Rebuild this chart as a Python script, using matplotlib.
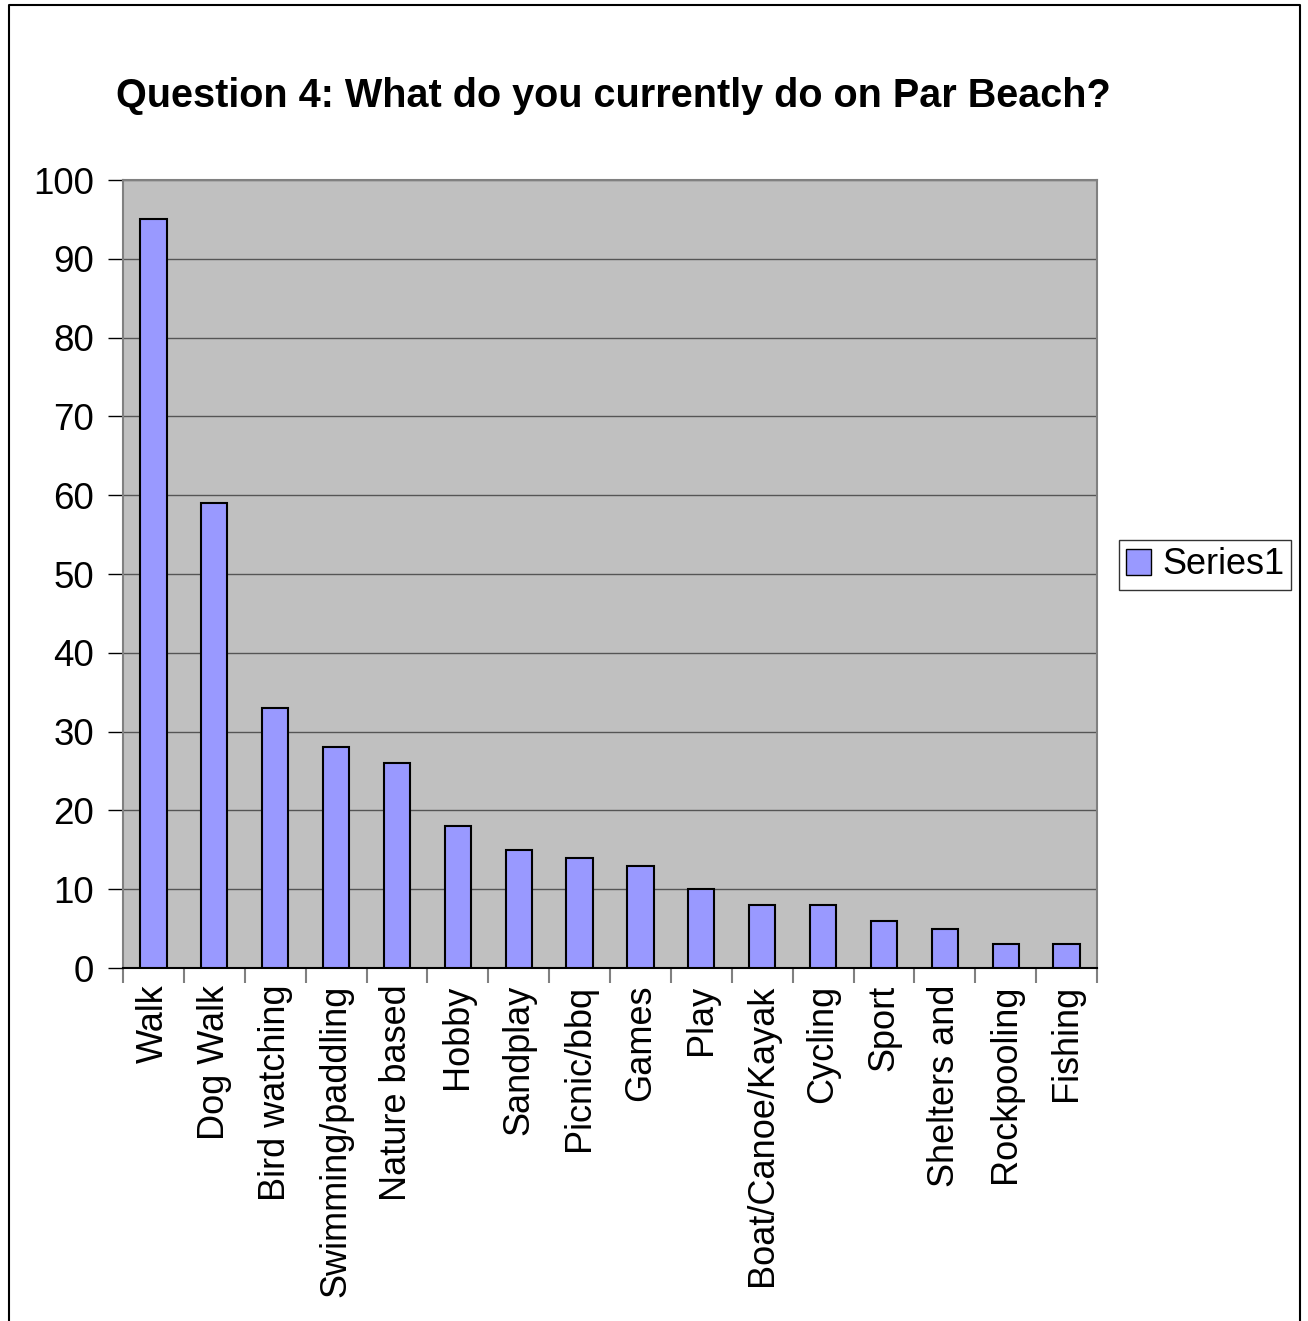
import matplotlib
matplotlib.use("Agg")
import matplotlib.pyplot as plt
from matplotlib.lines import Line2D
from matplotlib.patches import Patch

categories = ["Walk", "Dog Walk", "Bird watching", "Swimming/paddling", "Nature based",
              "Hobby", "Sandplay", "Picnic/bbq", "Games", "Play", "Boat/Canoe/Kayak",
              "Cycling", "Sport", "Shelters and", "Rockpooling", "Fishing"]
values = [95, 59, 33, 28, 26, 18, 15, 14, 13, 10, 8, 8, 6, 5, 3, 3]
yticks = [0, 10, 20, 30, 40, 50, 60, 70, 80, 90, 100]
title = "Question 4: What do you currently do on Par Beach?"
series_name = "Series1"

plt.rcParams['font.family'] = ['Liberation Sans', 'DejaVu Sans']

W, H = 1308, 1321
fig = plt.figure(figsize=(W / 100, H / 100), dpi=100)

# outer chart border (left, top, right)
fig.add_artist(Line2D([9 / W, 9 / W, 1300 / W, 1300 / W], [0, 1 - 5 / H, 1 - 5 / H, 0],
                      transform=fig.transFigure, color='black', lw=1.5))

ax = fig.add_axes([123 / W, 1 - 968 / H, (1097 - 123) / W, (968 - 180) / H])
ax.set_facecolor('#C0C0C0')
x = list(range(len(categories)))
bars = ax.bar(x, values, width=0.43, color='#9999FF', edgecolor='black', linewidth=1.5,
              zorder=3, label=series_name)
ax.set_xlim(-0.5, len(categories) - 0.5)
ax.set_ylim(0, 100)
ax.set_yticks(yticks)
ax.set_yticklabels([str(v) for v in yticks], fontsize=26.5)
ax.yaxis.grid(True, color='#555555', lw=1, zorder=1)
ax.set_axisbelow(True)

# category ticks at boundaries
ax.set_xticks([i - 0.5 for i in range(len(categories) + 1)])
ax.set_xticklabels([])
ax.set_xticks(x, minor=True)
ax.set_xticklabels(categories, minor=True, rotation=90, fontsize=26, va='top', ha='center')
ax.tick_params(axis='x', which='minor', length=0, pad=12)
ax.tick_params(axis='x', which='major', length=11, color='#808080', width=1.5, direction='out')
ax.tick_params(axis='y', length=11, color='black', width=1, direction='out', pad=10)

for s in ['top', 'right']:
    ax.spines[s].set_color('#808080')
    ax.spines[s].set_linewidth(1.5)
ax.spines['left'].set_color('#808080')
ax.spines['left'].set_linewidth(1.5)
ax.spines['bottom'].set_color('black')
ax.spines['bottom'].set_linewidth(1.5)

fig.text(613 / W, 1 - 96 / H, title, fontsize=28.5, fontweight='bold', ha='center', va='center')

leg = fig.legend(handles=[Patch(facecolor='#9999FF', edgecolor='black', label=series_name)],
                 loc='center', bbox_to_anchor=(1205 / W, 1 - 565 / H), fontsize=26,
                 frameon=True, fancybox=False, edgecolor='black', handlelength=0.7,
                 handleheight=0.7, handletextpad=0.3, borderpad=0.2, borderaxespad=0)
leg.get_frame().set_linewidth(1)

fig.savefig("out.png", dpi=100)
